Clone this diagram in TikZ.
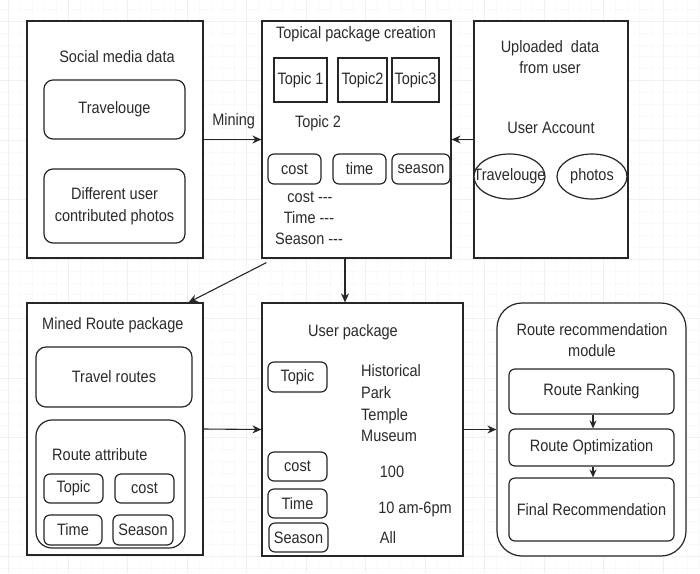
\documentclass[tikz,border=0pt]{standalone}
\usepackage{fontspec}
\setmainfont{Liberation Sans}[FakeStretch=0.88]
\usetikzlibrary{calc,arrows.meta,shapes.geometric}
\definecolor{linec}{HTML}{262626}
\definecolor{textc}{HTML}{2B2B2B}
\begin{document}
\begin{tikzpicture}[x=1pt,y=-1pt,
  font=\fontsize{16.5}{21.5}\selectfont,
  minorg/.style={draw=black!2.5, line width=0.5pt},
  majorg/.style={draw=black!6, line width=0.7pt},
  box/.style={draw=linec, line width=1.2pt, inner sep=0pt, align=center, text=textc, fill=white},
  rbox/.style={box, rounded corners=6pt},
  txt/.style={inner sep=0pt, text=textc, align=center},
  ell/.style={ellipse, draw=linec, line width=1.2pt, inner sep=0pt, minimum width=71, minimum height=45, fill=white},
  arr/.style={draw=linec, line width=1.1pt, -{Stealth[length=9pt,width=8pt]}}]
\useasboundingbox (0,0) rectangle (700,573);
\fill[white] (0,0) rectangle (700,573);
% background grid
\foreach \i in {0,...,58} {\draw[minorg] ({8.5+11.9*\i},0) -- ({8.5+11.9*\i},573);}
\foreach \i in {0,...,47} {\draw[minorg] (0,{9.1+11.9*\i}) -- (700,{9.1+11.9*\i});}
\foreach \i in {0,...,11} {\draw[majorg] ({8.5+59.5*\i},0) -- ({8.5+59.5*\i},573);}
\foreach \i in {0,...,9} {\draw[majorg] (0,{21+59.5*\i}) -- (700,{21+59.5*\i});}

% ---------- containers ----------
\node[box, minimum width=176, minimum height=237] (social) at (115,139.5) {};
\node[box, minimum width=189, minimum height=237] (topical) at (356.5,139.5) {};
\node[box, minimum width=154, minimum height=237] (uploaded) at (551,139.5) {};
\node[box, minimum width=176, minimum height=252] (mined) at (115,429) {};
\node[box, minimum width=201, minimum height=253] (userpkg) at (362.5,429.5) {};
\node[box, rounded corners=25pt, minimum width=189, minimum height=253] (routemod) at (591.5,429.5) {};

% ---------- social media data ----------
\node[txt] (socialtitle) at (117,57) {Social media data};
\node[rbox, rounded corners=9pt, minimum width=141, minimum height=59] (travel1) at (114.5,109.5) {Travelouge};
\node[rbox, rounded corners=9pt, minimum width=141, minimum height=74] (photos1) at (114.5,206) {Different user\\contributed photos};

% ---------- topical package creation ----------
\node[txt] (topicaltitle) at (356,34) {Topical package creation};
\node[box, minimum width=53, minimum height=44] (topic1) at (300.5,80) {Topic 1};
\node[box, minimum width=49, minimum height=44] (topic2) at (362.5,80) {Topic2};
\node[box, minimum width=47, minimum height=44] (topic3) at (415.5,80) {Topic3};
\node[txt] (topic2lbl) at (318,123) {Topic 2};
\node[rbox, minimum width=53, minimum height=30] (tcost) at (294.5,169) {cost};
\node[rbox, minimum width=53, minimum height=30] (ttime) at (359.5,169) {time};
\node[rbox, minimum width=58, minimum height=30] (tseason) at (421,169) {season};
\node[txt] (costd) at (310,197) {cost -{}-{}-};
\node[txt] (timed) at (309,218) {Time -{}-{}-};
\node[txt] (seasond) at (309,239) {Season -{}-{}-};

% ---------- uploaded data ----------
\node[txt] (uptitle) at (550,57) {Uploaded\ \ data\\from user};
\node[txt] (useracc) at (551,128) {User Account};
\node[ell, minimum width=71] (ellT) at (509.5,176.5) {};
\node[txt] (ellTlbl) at (ellT.center) {Travelouge};
\node[ell, minimum width=70] (ellP) at (592,176.5) {};
\node[txt] (ellPlbl) at (ellP.center) {photos};

% ---------- mined route package ----------
\node[txt, anchor=west] (minedtitle) at (42,325) {Mined Route package};
\node[rbox, rounded corners=10pt, minimum width=156, minimum height=60] (routes) at (114,377) {Travel routes};
\node[rbox, rounded corners=16pt, minimum width=149, minimum height=128] (rattr) at (110.5,484) {};
\node[txt, anchor=west] (rattrtitle) at (52,455) {Route attribute};
\node[rbox, minimum width=59, minimum height=29] (mtopic) at (73.5,488.5) {Topic};
\node[rbox, minimum width=59, minimum height=29] (mcost) at (144.5,488.5) {cost};
\node[rbox, minimum width=58, minimum height=30] (mtime) at (73,530) {Time};
\node[rbox, minimum width=60, minimum height=30] (mseason) at (143,530) {Season};

% ---------- user package ----------
\node[txt] (usertitle) at (353,332) {User package};
\node[rbox, minimum width=59, minimum height=30] (utopic) at (297.5,377) {Topic};
\node[txt, anchor=west, align=left, font=\fontsize{16.5}{21.7}\selectfont] (uplaces) at (361,403.5) {Historical\\Park\\Temple\\Museum};
\node[rbox, minimum width=59, minimum height=29] (ucost) at (297.5,466.5) {cost};
\node[rbox, minimum width=59, minimum height=29] (utime) at (297.5,503.5) {Time};
\node[rbox, minimum width=59, minimum height=29] (useason) at (298.5,537.5) {Season};
\node[txt] (u100) at (392,472) {100};
\node[txt] (uhours) at (415,509) {10 am-6pm};
\node[txt] (uall) at (388,538) {All};

% ---------- route recommendation module ----------
\node[txt] (rmtitle) at (592,340) {Route recommendation\\module};
\node[rbox, minimum width=165, minimum height=45] (rank) at (591.5,391.5) {Route Ranking};
\node[rbox, minimum width=165, minimum height=37] (opt) at (591.5,447.5) {Route Optimization};
\node[rbox, minimum width=165, minimum height=63] (final) at (591.5,509.5) {Final Recommendation};

% ---------- connectors ----------
\draw[arr] (social.east) -- node[txt, above=10pt, pos=0.52] (mininglbl) {Mining} (topical.west);
\draw[arr] (uploaded.west) -- (topical.east);
\coordinate (dstart) at ($(topical.south)+(-11.5,0)$);
\draw[arr] (dstart) -- (dstart |- userpkg.north);
\coordinate (diagstart) at ($(topical.south west)+(5,4)$);
\coordinate (diagend) at ($(mined.north east)+(-15,0)$);
\draw[arr] (diagstart) -- (diagend);
\draw[arr] (mined.east) -- (userpkg.west);
\draw[arr] (userpkg.east) -- (routemod.west);
\draw[arr, -{Stealth[length=8pt,width=7pt]}] ($(rank.south)+(1.5,0)$) -- ($(opt.north)+(1.5,0)$);
\draw[arr, -{Stealth[length=8pt,width=7pt]}] ($(opt.south)+(1.5,0)$) -- ($(final.north)+(1.5,0)$);
\end{tikzpicture}
\end{document}
